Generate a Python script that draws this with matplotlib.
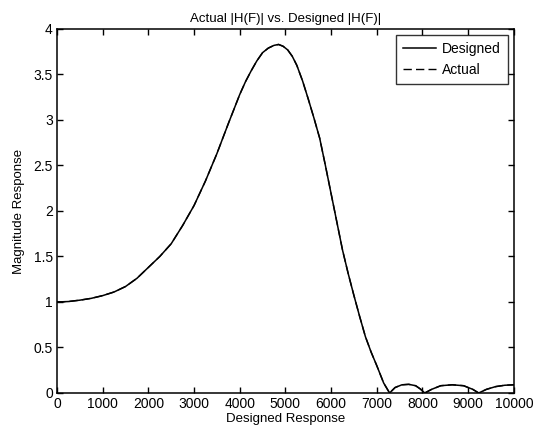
import matplotlib
matplotlib.use("Agg")
import matplotlib.pyplot as plt

plt.rcParams["font.family"] = ["Liberation Sans", "DejaVu Sans"]

freq = [0, 250, 500, 750, 1000, 1250, 1500, 1750, 2000, 2250, 2500, 2750,
        3000, 3250, 3500, 3750, 4000, 4125, 4250, 4375, 4500, 4625, 4750,
        4850, 4950, 5050, 5150, 5250, 5375, 5500, 5625, 5750, 5875, 6000,
        6125, 6250, 6375, 6500, 6625, 6750, 6875, 7000, 7150, 7280, 7400,
        7550, 7700, 7850, 7950, 8050, 8200, 8400, 8650, 8900, 9100, 9230,
        9400, 9600, 9800, 10000]

designed = [1.00, 1.005, 1.02, 1.04, 1.07, 1.11, 1.17, 1.26, 1.38, 1.50,
            1.64, 1.84, 2.06, 2.33, 2.63, 2.96, 3.28, 3.42, 3.54, 3.65,
            3.74, 3.79, 3.82, 3.83, 3.81, 3.77, 3.70, 3.60, 3.43, 3.23,
            3.02, 2.80, 2.50, 2.19, 1.88, 1.57, 1.31, 1.07, 0.84, 0.62,
            0.45, 0.30, 0.11, 0.00, 0.06, 0.09, 0.095, 0.08, 0.045, 0.00,
            0.04, 0.08, 0.09, 0.08, 0.04, 0.00, 0.04, 0.07, 0.085, 0.09]

actual = [1.00, 1.005, 1.02, 1.04, 1.07, 1.11, 1.17, 1.26, 1.38, 1.50,
          1.64, 1.84, 2.06, 2.33, 2.63, 2.96, 3.28, 3.42, 3.54, 3.65,
          3.74, 3.79, 3.82, 3.83, 3.81, 3.77, 3.70, 3.60, 3.43, 3.23,
          3.02, 2.80, 2.50, 2.19, 1.88, 1.57, 1.31, 1.07, 0.84, 0.62,
          0.45, 0.30, 0.11, 0.00, 0.06, 0.09, 0.095, 0.08, 0.045, 0.00,
          0.04, 0.08, 0.09, 0.08, 0.04, 0.00, 0.04, 0.07, 0.085, 0.09]

xticks = [0, 1000, 2000, 3000, 4000, 5000, 6000, 7000, 8000, 9000, 10000]
yticks = [0, 0.5, 1, 1.5, 2, 2.5, 3, 3.5, 4]
ytick_labels = ["0", "0.5", "1", "1.5", "2", "2.5", "3", "3.5", "4"]

fig = plt.figure(figsize=(5.35, 4.34), dpi=100)
ax = fig.add_axes([0.1065, 0.0945, 0.854, 0.8387])

ax.plot(freq, designed, color="black", linewidth=1.1, linestyle="-", label="Designed")
ax.plot(freq, actual, color="black", linewidth=1.0, linestyle=(0, (6, 3)), label="Actual")

ax.set_xlim(0, 10000)
ax.set_ylim(0, 4)
ax.set_xticks(xticks)
ax.set_xticklabels([str(t) for t in xticks])
ax.set_yticks(yticks)
ax.set_yticklabels(ytick_labels)
ax.tick_params(direction="in", top=True, right=True, length=4, width=1,
               labelsize=10, pad=3)

for s in ax.spines.values():
    s.set_linewidth(1.1)

ax.set_title("Actual |H(F)| vs. Designed |H(F)|", fontsize=9.5, pad=5)
ax.set_xlabel("Designed Response", fontsize=9.5, labelpad=1)
ax.set_ylabel("Magnitude Response", fontsize=9.5, labelpad=6)

leg = ax.legend(loc="upper right", fontsize=10, frameon=True, fancybox=False,
                handlelength=2.4, handletextpad=0.4, borderaxespad=0.45,
                borderpad=0.5, labelspacing=0.5)
leg.get_frame().set_edgecolor("black")
leg.get_frame().set_linewidth(1.0)

fig.savefig("out.png", dpi=100)
